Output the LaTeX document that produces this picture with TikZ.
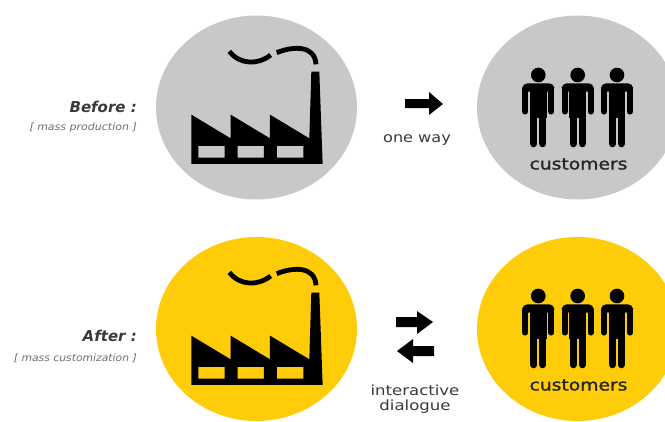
\documentclass[tikz,border=0pt]{standalone}
\usetikzlibrary{shapes.geometric}
\usepackage{graphicx}
\usepackage{fontspec}
\setmainfont{DejaVu Sans}
\newfontfamily\boldface[FakeBold=1.4]{DejaVu Sans}
\definecolor{circgray}{HTML}{C8C8C8}
\definecolor{circyellow}{HTML}{FFCC0A}
\definecolor{inkblack}{HTML}{000000}
\definecolor{softink}{HTML}{3A3A3A}
\definecolor{lightink}{HTML}{6E6E6E}
\newcommand{\widen}[2]{\scalebox{#1}[1]{#2}}
\tikzset{
  disc/.style={ellipse,minimum width=201pt,minimum height=184pt,inner sep=0pt},
  headline/.style={font=\fontsize{15}{15}\selectfont\bfseries\itshape,text=softink,anchor=east,inner sep=0pt},
  subline/.style={font=\fontsize{10}{10}\selectfont\itshape,text=lightink,anchor=east,inner sep=0pt},
  caption/.style={font=\fontsize{14}{16}\selectfont,text=softink,inner sep=0pt,align=center},
  crowdlabel/.style={font=\fontsize{16}{16}\boldface,text=inkblack!85,inner sep=0pt},
  factory/.pic={
    \begin{scope}[x=0.3333pt,y=-0.3333pt]
    \fill[inkblack,even odd rule] (124,462)--(124,314)--(242,385)--(242,314)--(360,385)--(360,314)--(478,385)--(484,185)--(508,185)--(518,462)--cycle
      (145,408) rectangle (224,443) (263,408) rectangle (342,443) (381,408) rectangle (460,443);
    \draw[inkblack,line width=4.8pt] (238,124) .. controls (270,165) and (325,165) .. (362,135);
    \draw[inkblack,line width=4.8pt] (380,128) .. controls (430,108) and (495,105) .. (498,163);
    \end{scope}
  },
  person/.pic={
    \begin{scope}[x=0.3333pt,y=-0.3333pt]
    \fill[inkblack] (0,0) circle (22);
    \fill[inkblack,rounded corners=5pt] (-48,25) -- (48,25) -- (48,50) -- (-48,50) -- cycle;
    \fill[inkblack] (-25,40) rectangle (25,130);
    \draw[inkblack,line width=5.8pt,line cap=round] (-39,42) -- (-39,110);
    \draw[inkblack,line width=5.8pt,line cap=round] (39,42) -- (39,110);
    \draw[inkblack,line width=7.2pt,line cap=round] (-13.5,120) -- (-13.5,206);
    \draw[inkblack,line width=7.2pt,line cap=round] (13.5,120) -- (13.5,206);
    \end{scope}
  }
}
\begin{document}
\begin{tikzpicture}[x=1pt,y=-1pt]
\useasboundingbox (0,0) rectangle (665,421);
\begin{scope}
\clip (0,0) rectangle (665,421);
\node[disc,fill=circgray] (factoryA) at (256.5,107.5) {};
\node[disc,fill=circgray] (crowdA) at (577.5,107.5) {};
\node[disc,fill=circyellow] (factoryB) at (256.5,329) {};
\node[disc,fill=circyellow] (crowdB) at (577.5,329) {};
\end{scope}
\pic at (150,10) {factory};
\pic at (150,231) {factory};
\foreach \dy in {0,221}{
  \foreach \px in {538.3,577.7,617}{
    \pic at (\px,75+\dy) {person};
  }
}
\node[crowdlabel] (custA) at (578.5,164) {\widen{1.17}{customers}};
\node[crowdlabel] (custB) at (578.5,385) {\widen{1.17}{customers}};
\node[headline] (before) at (137,107) {Before :};
\node[subline] (massprod) at (137,128) {\widen{1.1}{[ mass production ]}};
\node[headline] (after) at (137,336) {After :};
\node[subline] (masscust) at (137,358) {\widen{1.08}{[ mass customization ]}};
\node[caption] (oneway) at (417,140) {\widen{1.15}{one way}};
\node[caption] (dialogue) at (415,399.5) {\widen{1.18}{interactive}\\[-1pt]\widen{1.18}{dialogue}};
\fill[inkblack] (405,99)--(429,99)--(429,92)--(443,104)--(429,115)--(429,108)--(405,108)--cycle;
\fill[inkblack] (396,317)--(417,317)--(417,311)--(433,322)--(417,334)--(417,327)--(396,327)--cycle;
\fill[inkblack] (434,346)--(413,346)--(413,339)--(397,351)--(413,363)--(413,356)--(434,356)--cycle;
\end{tikzpicture}
\end{document}
